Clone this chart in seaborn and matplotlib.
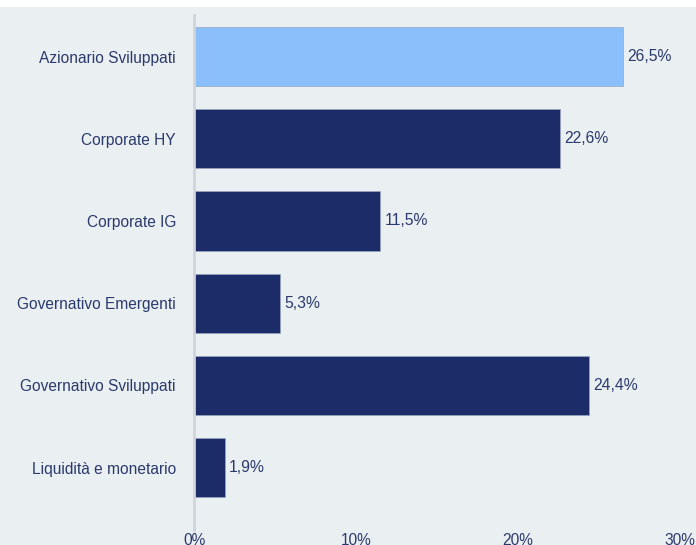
import matplotlib
matplotlib.use("Agg")
import matplotlib.pyplot as plt
import seaborn as sns
import pandas as pd
from matplotlib.patches import Rectangle

# Dati del grafico
categorie = ["Azionario Sviluppati", "Corporate HY", "Corporate IG",
             "Governativo Emergenti", "Governativo Sviluppati", "Liquidità e monetario"]
pesi = [26.5, 22.6, 11.5, 5.3, 24.4, 1.9]
xticks = [0, 10, 20, 30]
xtick_labels = ["0%", "10%", "20%", "30%"]

BG = "#eaeff2"
NAVY = "#1b2c68"
LIGHT = "#8bbffc"
TEXT = "#2b3a6c"

df = pd.DataFrame({"categoria": categorie, "peso": pesi})
palette = {c: (LIGHT if i == 0 else NAVY) for i, c in enumerate(categorie)}

sns.set_style("white")
plt.rcParams["font.family"] = ["Liberation Sans", "DejaVu Sans"]

W, H = 696, 545
fig = plt.figure(figsize=(W / 100, H / 100), dpi=100, facecolor=BG)
# striscia bianca in alto
fig.patches.append(Rectangle((0, 1 - 7 / H), 1, 7 / H, transform=fig.transFigure,
                             facecolor="white", edgecolor="none", zorder=0))
ax = fig.add_axes([194 / W, 15 / H, (680 - 194) / W, (530 - 15) / H])
ax.set_facecolor(BG)

sns.barplot(data=df, x="peso", y="categoria", hue="categoria", palette=palette,
            legend=False, orient="h", width=0.72, ax=ax, saturation=1,
            edgecolor="#9aa6c0", linewidth=0.5)

for cont in ax.containers:
    ax.bar_label(cont, labels=[f"{v:.1f}%".replace(".", ",") for v in cont.datavalues],
                 padding=3, fontsize=11.3, color=TEXT)

ax.set_xlim(0, 30)
ax.set_ylim(5.76, -0.506)
ax.set_xticks(xticks)
ax.set_xticklabels(xtick_labels)
ax.set_xlabel("")
ax.set_ylabel("")
ax.tick_params(axis="both", length=0, labelsize=11.2, labelcolor=TEXT)
ax.tick_params(axis="y", pad=13)
ax.tick_params(axis="x", pad=2)
for s in ["top", "right", "bottom"]:
    ax.spines[s].set_visible(False)
ax.spines["left"].set_color("#cfd5da")
ax.spines["left"].set_linewidth(2)

fig.savefig("out.png", dpi=100, facecolor=fig.get_facecolor())
